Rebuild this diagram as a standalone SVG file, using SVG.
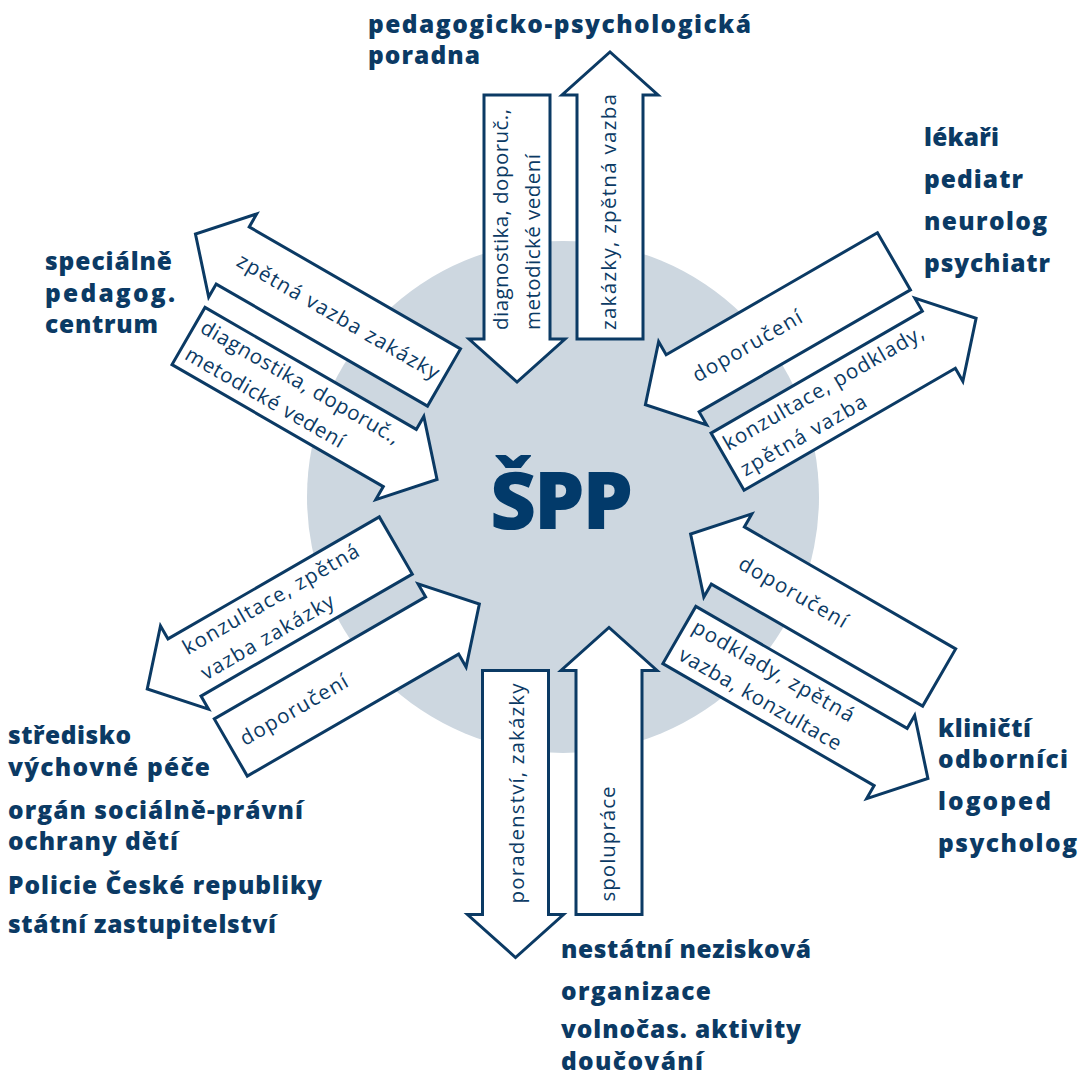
<svg xmlns="http://www.w3.org/2000/svg" xmlns:xlink="http://www.w3.org/1999/xlink" width="1079" height="1076" viewBox="0 0 1079 1076">
<style>
.arr{fill:#fff;stroke:#0b3a64;stroke-width:3;stroke-linejoin:miter}
.lbl{font-family:"Open Sans","Inter","Liberation Sans",sans-serif;font-weight:400;font-size:20.5px;fill:#0b3a64}
.big{font-family:"Open Sans","Inter","Liberation Sans",sans-serif;font-weight:800;font-size:24.5px;fill:#0b3a64}
.title{font-family:"Open Sans","Inter","Liberation Sans",sans-serif;font-weight:800;font-size:80px;fill:#023a6a}
</style>
<defs>
<path id="arr" d="M-122,-33 H122 V-48 L165,0 L122,48 V33 H-122 Z"/>
</defs>
<rect width="1079" height="1076" fill="#fff"/>
<circle id="center-circle" cx="563" cy="497" r="256" fill="#cdd7e0"/>
<g id="connectors">
<use class="arr" xlink:href="#arr" href="#arr" transform="translate(517,217) rotate(90)"/>
<use class="arr" xlink:href="#arr" href="#arr" transform="translate(610,217) rotate(-90)"/>
<use class="arr" xlink:href="#arr" href="#arr" transform="translate(788.3,322.3) rotate(150)"/>
<use class="arr" xlink:href="#arr" href="#arr" transform="translate(833.2,400.7) rotate(-30)"/>
<use class="arr" xlink:href="#arr" href="#arr" transform="translate(833.5,616.5) rotate(210)"/>
<use class="arr" xlink:href="#arr" href="#arr" transform="translate(785,696) rotate(30)"/>
<use class="arr" xlink:href="#arr" href="#arr" transform="translate(515.5,792.5) rotate(90)"/>
<use class="arr" xlink:href="#arr" href="#arr" transform="translate(609,792.5) rotate(-90)"/>
<use class="arr" xlink:href="#arr" href="#arr" transform="translate(290.15,606.5) rotate(150)"/>
<use class="arr" xlink:href="#arr" href="#arr" transform="translate(336.45,686.5) rotate(-30)"/>
<use class="arr" xlink:href="#arr" href="#arr" transform="translate(338.35,316.5) rotate(210)"/>
<use class="arr" xlink:href="#arr" href="#arr" transform="translate(294.15,397) rotate(30)"/>
</g>
<g id="arrow-labels">
<g id="lbl-top-down" transform="translate(517,217) rotate(-90)">
<text class="lbl" x="-113" y="-9" textLength="221">diagnostika, doporuč.,</text>
<text class="lbl" x="-113" y="23" textLength="176">metodické vedení</text>
</g>
<g id="lbl-top-up" transform="translate(610,217) rotate(-90)">
<text class="lbl" x="-113" y="6" textLength="236">zakázky, zpětná vazba</text>
</g>
<g id="lbl-ur-in" transform="translate(788.3,322.3) rotate(-30)">
<text class="lbl" x="-109" y="7" textLength="123">doporučení</text>
</g>
<g id="lbl-ur-out" transform="translate(833.2,400.7) rotate(-30)">
<text class="lbl" x="-116" y="-9" textLength="228">konzultace, podklady,</text>
<text class="lbl" x="-114" y="22" textLength="142">zpětná vazba</text>
</g>
<g id="lbl-lr-in" transform="translate(833.5,616.5) rotate(30)">
<text class="lbl" x="-108" y="6" textLength="122">doporučení</text>
</g>
<g id="lbl-lr-out" transform="translate(785,696) rotate(30)">
<text class="lbl" x="-114" y="-9" textLength="183">podklady, zpětná</text>
<text class="lbl" x="-112" y="22" textLength="184">vazba, konzultace</text>
</g>
<g id="lbl-bot-down" transform="translate(515.5,792.5) rotate(-90)">
<text class="lbl" x="-111" y="8" textLength="220">poradenství, zakázky</text>
</g>
<g id="lbl-bot-up" transform="translate(609,792.5) rotate(-90)">
<text class="lbl" x="-109" y="6" textLength="115">spolupráce</text>
</g>
<g id="lbl-ll-out" transform="translate(290.15,606.5) rotate(-30)">
<text class="lbl" x="-113" y="-9" textLength="200">konzultace, zpětná</text>
<text class="lbl" x="-110" y="22" textLength="150">vazba zakázky</text>
</g>
<g id="lbl-ll-in" transform="translate(336.45,686.5) rotate(-30)">
<text class="lbl" x="-109" y="6" textLength="121">doporučení</text>
</g>
<g id="lbl-ul-out" transform="translate(338.35,316.5) rotate(30)">
<text class="lbl" x="-115" y="7" textLength="230">zpětná vazba zakázky</text>
</g>
<g id="lbl-ul-in" transform="translate(294.15,397) rotate(30)">
<text class="lbl" x="-115" y="-9" textLength="226">diagnostika, doporuč.,</text>
<text class="lbl" x="-115" y="22" textLength="180">metodické vedení</text>
</g>
</g>
<g id="node-spp">
<text class="title" x="490" y="529" textLength="143">ŠPP</text>
</g>
<g id="node-ppp">
<text class="big" x="368" y="33" textLength="383">pedagogicko-psychologická</text>
<text class="big" x="368" y="64" textLength="112">poradna</text>
</g>
<g id="node-lekari">
<text class="big" x="924" y="146" textLength="75">lékaři</text>
<text class="big" x="924" y="188" textLength="99">pediatr</text>
<text class="big" x="924" y="230" textLength="123">neurolog</text>
<text class="big" x="924" y="272" textLength="126">psychiatr</text>
</g>
<g id="node-spc">
<text class="big" x="45" y="270" textLength="127">speciálně</text>
<text class="big" x="45" y="302" textLength="130">pedagog.</text>
<text class="big" x="45" y="333" textLength="113">centrum</text>
</g>
<g id="node-svp">
<text class="big" x="8" y="744" textLength="123">středisko</text>
<text class="big" x="8" y="776" textLength="202">výchovné péče</text>
<text class="big" x="8" y="819" textLength="295">orgán sociálně-právní</text>
<text class="big" x="8" y="850" textLength="170">ochrany dětí</text>
<text class="big" x="8" y="894" textLength="314">Policie České republiky</text>
<text class="big" x="8" y="933" textLength="268">státní zastupitelství</text>
</g>
<g id="node-klinicti">
<text class="big" x="938" y="737" textLength="93">kliničtí</text>
<text class="big" x="938" y="768" textLength="130">odborníci</text>
<text class="big" x="938" y="810" textLength="113">logoped</text>
<text class="big" x="938" y="852" textLength="139">psycholog</text>
</g>
<g id="node-nno">
<text class="big" x="561" y="958" textLength="250">nestátní nezisková</text>
<text class="big" x="561" y="1000" textLength="150">organizace</text>
<text class="big" x="561" y="1038" textLength="240">volnočas. aktivity</text>
<text class="big" x="561" y="1070" textLength="142">doučování</text>
</g>
</svg>
